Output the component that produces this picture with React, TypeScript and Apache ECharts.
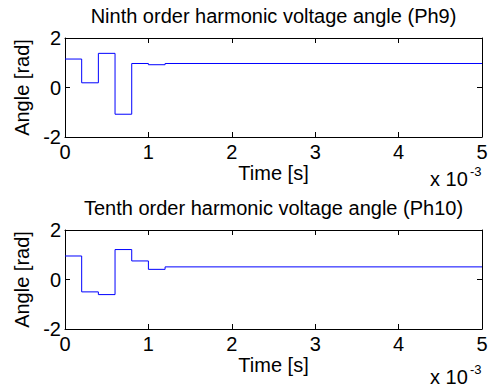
import React, { useEffect, useRef } from "react";
import * as echarts from "echarts";

// Step change instants (seconds) and harmonic voltage angles (rad)
const timeS = [0, 0.0002, 0.0004, 0.0006, 0.0008, 0.001, 0.0012, 0.005];
const ph9 = [1.15, 0.19, 1.38, -1.08, 0.97, 0.92, 0.97, 0.97];
const ph10 = [0.95, -0.5, -0.61, 1.21, 0.75, 0.41, 0.51, 0.51];
const titles = [
  "Ninth order harmonic voltage angle (Ph9)",
  "Tenth order harmonic voltage angle (Ph10)",
];
const xLabel = "Time [s]";
const yLabel = "Angle [rad]";
const xMin = 0;
const xMax = 0.005;
const xStep = 0.001;
const yMin = -2;
const yMax = 2;
const yStep = 2;

const FONT = "Liberation Sans, Arial, Helvetica, sans-serif";
const BLACK = "#000000";

export default function App() {
  const ref = useRef<HTMLDivElement>(null);
  useEffect(() => {
    if (!ref.current) return;
    const chart = echarts.init(ref.current, undefined, { renderer: "svg" });
    const grids = [
      { left: 65, right: 12, top: 38, height: 99 },
      { left: 65, right: 12, top: 230, height: 99 },
    ];
    const series = [ph9, ph10];
    const txt = { fontSize: 20, color: BLACK, fontFamily: FONT };
    const lineStyle = { color: BLACK, width: 1 };
    const xAxis: any[] = [];
    const yAxis: any[] = [];
    grids.forEach((_, i) => {
      xAxis.push({
        gridIndex: i,
        type: "value",
        position: "bottom",
        min: xMin,
        max: xMax,
        interval: xStep,
        axisLine: { show: true, onZero: false, lineStyle },
        axisTick: { show: true, inside: true, length: 5, lineStyle },
        axisLabel: {
          ...txt,
          margin: 5,
          formatter: (v: number) => String(Math.round(v / xStep)),
        },
        splitLine: { show: false },
        name: xLabel,
        nameLocation: "middle",
        nameGap: 17,
        nameTextStyle: txt,
      });
      xAxis.push({
        gridIndex: i,
        type: "value",
        position: "top",
        min: xMin,
        max: xMax,
        interval: xStep,
        axisLine: { show: true, onZero: false, lineStyle },
        axisTick: { show: true, inside: true, length: 5, lineStyle },
        axisLabel: { show: false },
        splitLine: { show: false },
        name: titles[i],
        nameLocation: "middle",
        nameGap: 12,
        nameTextStyle: txt,
      });
      yAxis.push({
        gridIndex: i,
        type: "value",
        position: "left",
        min: yMin,
        max: yMax,
        interval: yStep,
        axisLine: { show: true, onZero: false, lineStyle },
        axisTick: { show: true, inside: true, length: 5, lineStyle },
        axisLabel: { ...txt, margin: 4 },
        splitLine: { show: false },
        name: yLabel,
        nameLocation: "middle",
        nameRotate: 90,
        nameGap: 24,
        nameTextStyle: txt,
      });
      yAxis.push({
        gridIndex: i,
        type: "value",
        position: "right",
        min: yMin,
        max: yMax,
        interval: yStep,
        axisLine: { show: true, onZero: false, lineStyle },
        axisTick: { show: true, inside: true, length: 5, lineStyle },
        axisLabel: { show: false },
        splitLine: { show: false },
      });
    });
    const graphic: any[] = [];
    [0, 1].forEach((i) => {
      const base = i === 0 ? 179 : 377;
      graphic.push({
        type: "text",
        x: 430,
        y: base,
        style: {
          text: "x 10",
          font: `20px ${FONT}`,
          fill: BLACK,
          textAlign: "left",
          verticalAlign: "middle",
        },
      });
      graphic.push({
        type: "text",
        x: 470,
        y: base - 8,
        style: {
          text: "-3",
          font: `13px ${FONT}`,
          fill: BLACK,
          textAlign: "left",
          verticalAlign: "middle",
        },
      });
    });
    chart.setOption({
      animation: false,
      backgroundColor: "#ffffff",
      grid: grids,
      xAxis,
      yAxis,
      graphic,
      series: series.map((vals, i) => ({
        type: "line",
        step: "end",
        xAxisIndex: i * 2,
        yAxisIndex: i * 2,
        showSymbol: false,
        symbol: "none",
        lineStyle: { color: "#0000ff", width: 1 },
        data: timeS.map((t, k) => [t, vals[k]]),
      })),
    });
    return () => chart.dispose();
  }, []);
  return (
    <div
      ref={ref}
      style={{ position: "fixed", left: 0, top: 0, width: 494, height: 387 }}
    />
  );
}
